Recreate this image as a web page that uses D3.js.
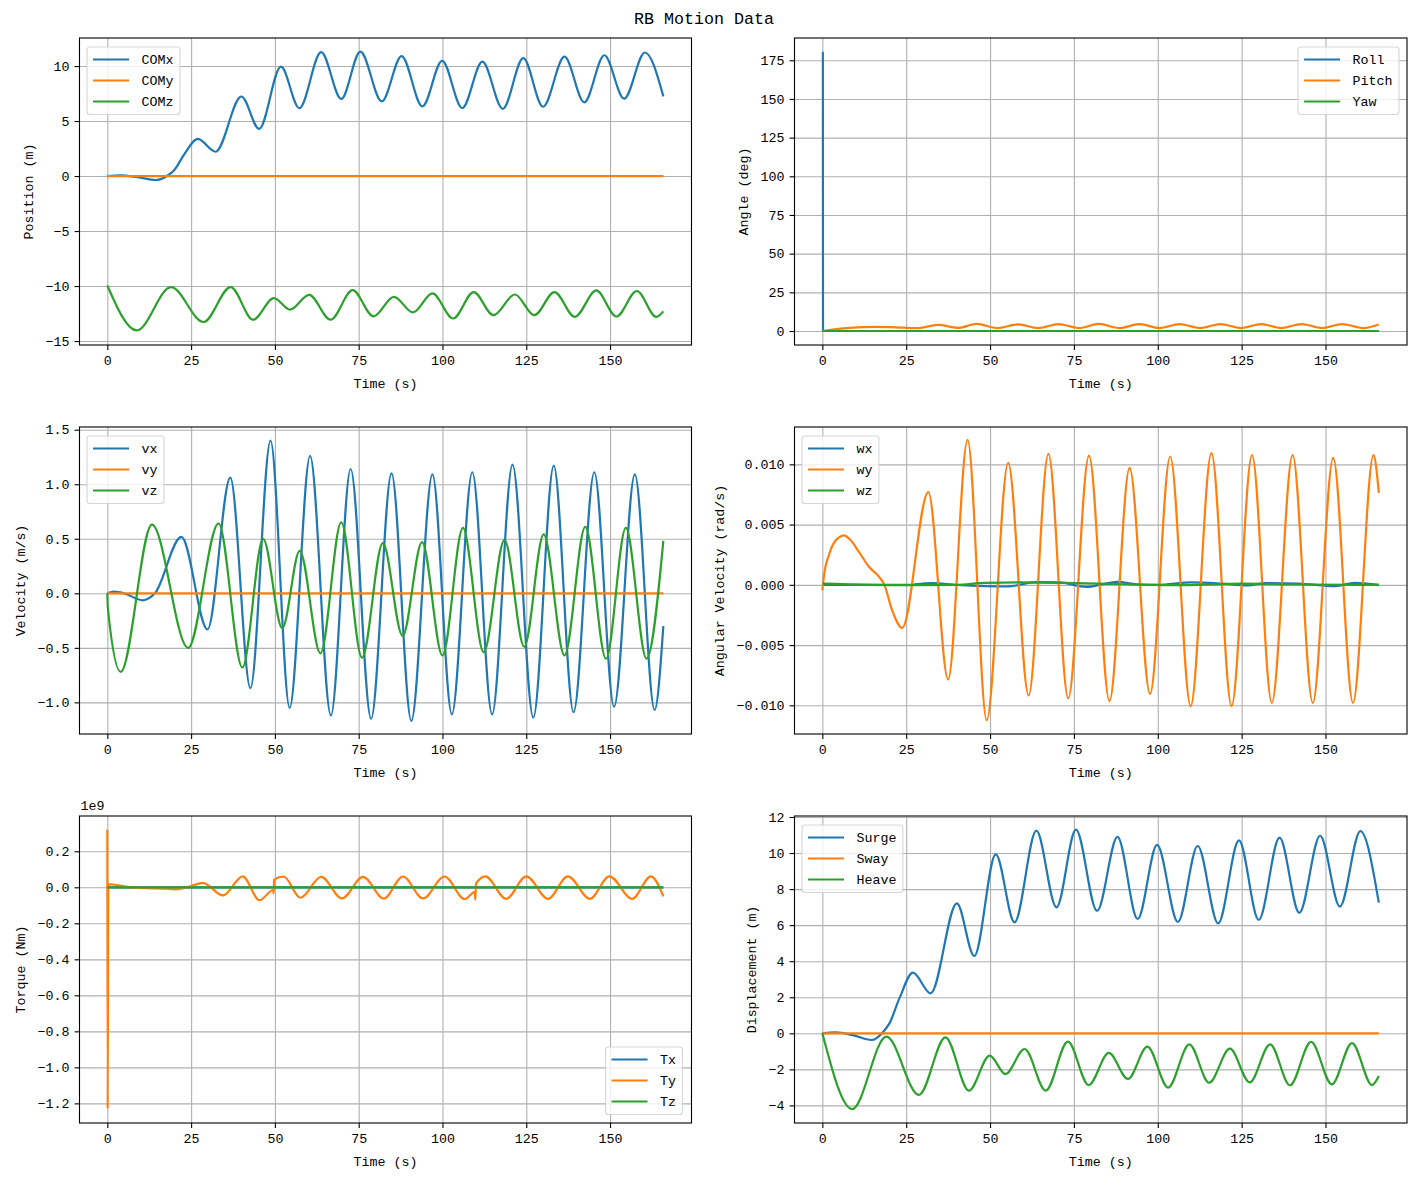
<!DOCTYPE html>
<html>
<head>
<meta charset="utf-8">
<title>RB Motion Data</title>
<script src="https://cdn.jsdelivr.net/npm/d3@7"></script>
<style>
  body { margin: 0; background: #fff; }
  text { font-family: "Liberation Mono", "DejaVu Sans Mono", monospace; fill: #000; }
</style>
</head>
<body>
<script>
// rb_motion : six panels of rigid body motion read back from the plot
// every series is a list of [time (s), value] samples

var comX = [[0,0],[4,0.06],[9,-0.1],[14.5,-0.36],[18,0.05],[20,0.55],[23,2.0],[27,3.38],[32.3,2.21],
  [40,7.23],[45.3,4.28],[51.8,9.94],[57.3,6.17],[63.8,11.26],[69.8,7.01],[75.5,11.32],[81.9,6.79],[87.8,10.9],
  [94,6.33],[99.9,10.47],[105.9,6.18],[111.9,10.4],[118,6.11],[124.1,10.72],[130,6.3],[136.4,10.85],[142.3,6.7],
  [148.3,10.98],[154.2,7.03],[160.4,11.23],[165.9,7.24]];
var comY = [[0,0],[165.9,0]];
var comZ = [[0,-9.95],[8.8,-14.03],[19,-10.09],[28.7,-13.27],[36.8,-10.09],[43.5,-13.06],[49.7,-11.09],[54.5,-12.15],
  [60.2,-10.8],[66.6,-13.06],[73.2,-10.38],[79.4,-12.75],[85.5,-10.98],[91.2,-12.4],[97,-10.67],[103.2,-12.95],
  [109.3,-10.55],[115.2,-12.65],[121.6,-10.77],[127.4,-12.65],[133.4,-10.55],[139.5,-12.8],[145.9,-10.4],
  [151.9,-12.77],[158,-10.45],[163.8,-12.8],[165.9,-12.3]];

var roll = [[0,180],[0.15,180],[0.2,0],[165.9,0]];
var pitch = [[0,0],[8,2.0],[16,2.7],[22,2.4],[28,1.8],[34.5,3.9],[40.5,2.0],[46,4.6],[52.2,1.9],[58.3,4.3],
  [64.4,1.9],[70.4,4.5],[76.5,1.9],[82.4,4.6],[88.6,1.9],[94.5,4.4],[100.5,1.9],[106.5,4.5],[112.6,1.9],
  [118.7,4.5],[124.8,1.9],[130.8,4.5],[136.8,1.9],[142.8,4.5],[149,1.9],[155,4.5],[161.2,1.9],[165.9,4.2]];
var yaw = [[0,0],[165.9,0]];

var vx = [[0,0],[2,0.015],[5,0],[10.6,-0.064],[14.2,0],[22.1,0.517],[29.9,-0.33],[36.7,1.06],[42.7,-0.87],
  [48.7,1.4],[54.4,-1.05],[60.5,1.26],[66.7,-1.12],[72.6,1.14],[78.7,-1.15],[84.8,1.1],[90.7,-1.17],[97,1.09],
  [102.8,-1.11],[108.9,1.11],[114.8,-1.11],[120.9,1.18],[127.1,-1.14],[133.2,1.17],[139.1,-1.09],[145.3,1.11],
  [151.2,-1.04],[157.4,1.09],[163.3,-1.07],[165.9,-0.3]];
var vy = [[0,0],[165.9,0]];
var vz = [[0,0],[0.15,-0.13],[4,-0.72],[13.3,0.63],[24.1,-0.5],[33.2,0.64],[40.3,-0.68],[46.5,0.5],[52.2,-0.32],
  [57.4,0.39],[63.6,-0.55],[69.8,0.65],[76,-0.59],[82.2,0.46],[88.1,-0.39],[93.9,0.47],[100,-0.57],[106.1,0.6],
  [112.3,-0.54],[118.5,0.49],[124.4,-0.49],[130.2,0.54],[136.4,-0.57],[142.6,0.61],[148.8,-0.6],[154.7,0.6],
  [160.9,-0.6],[165.9,0.48]];

var wx = [[0,0],[25,0],[32.4,0.00014],[40,0],[55,-0.00014],[63.7,0.00022],[70.6,0.0002],[78.7,-0.00017],
  [88,0.00025],[93.7,0.00005],[100,0],[110,0.0002],[119,0.0001],[127,-0.00005],[132,0.00014],[142,0.0001],
  [153,-0.0001],[158.6,0.00017],[165.9,0]];
var wy = [[0,-0.00045],[0.6,0.001],[2,0.0025],[3.5,0.0035],[6.5,0.0041],[8.1,0.0038],[11,0.0027],[13.9,0.0015],
  [16.8,0.0007],[18.5,0],[20.8,-0.0021],[23.8,-0.00357],[31.6,0.0077],[37.5,-0.00786],[43.3,0.01203],
  [49,-0.01123],[55.4,0.01012],[61.5,-0.00918],[67.4,0.01087],[73.3,-0.00943],[79.5,0.01073],[85.6,-0.00965],
  [91.6,0.0097],[97.7,-0.00905],[103.7,0.01065],[109.8,-0.01007],[116,0.01095],[122,-0.01007],[128.1,0.01076],
  [134,-0.0098],[140.2,0.01076],[146.2,-0.0098],[152.3,0.01054],[158.2,-0.0098],[164.3,0.01076],[165.9,0.00763]];
var wz = [[0,0.0001],[25,-0.00003],[40,0],[48.6,0.00017],[59,0.0002],[75,0.00014],[90,0.00005],[107.6,-0.00003],
  [125,0.0001],[142,0.00003],[165.9,0]];

// torque in units of 1e9 Nm
var tx = [[0,0],[165.9,0]];
var ty = [[0,0.32],[0.1,-1.23],[0.3,0.018],[3,0.012],[7,0],[12,-0.005],[17,-0.008],[20.5,-0.011],[25,0.007],
  [28.5,0.025],[34.5,-0.045],[40.4,0.061],[45.4,-0.072],[49.5,-0.015],[49.6,-0.035],[49.75,0.043],[52.6,0.06],
  [57.6,-0.058],[63.8,0.058],[70,-0.062],[76.3,0.058],[82.5,-0.063],[88.2,0.06],[94.2,-0.062],[100.6,0.06],
  [106.6,-0.065],[109.7,-0.025],[109.8,-0.068],[110,0.02],[112.8,0.061],[119,-0.064],[125,0.061],[131.5,-0.064],
  [137.4,0.061],[144,-0.064],[149.8,0.061],[156.6,-0.064],[162.2,0.061],[165.9,-0.05]];
var tz = [[0,0],[165.9,0]];

var surge = [[0,0],[4,0.05],[9,-0.1],[14.7,-0.37],[18,0.05],[20,0.55],[23,1.95],[27,3.37],[32.3,2.22],
  [40.1,7.21],[45.3,4.29],[51.7,9.93],[57.3,6.16],[63.8,11.24],[69.8,6.99],[75.6,11.3],[81.9,6.79],[88,10.9],
  [94,6.34],[99.8,10.45],[106,6.18],[111.9,10.39],[118,6.1],[124.2,10.7],[130.1,6.29],[136.3,10.85],[142.2,6.68],
  [148.4,10.96],[154.3,7.03],[160.4,11.22],[165.9,7.25]];
var sway = [[0,0],[165.9,0]];
var heave = [[0,0],[8.9,-4.2],[19.1,-0.18],[28.8,-3.42],[36.7,-0.22],[43.7,-3.18],[49.9,-1.24],[54.6,-2.26],
  [60.3,-0.87],[66.6,-3.18],[73.2,-0.46],[79.4,-2.87],[85.4,-1.09],[91.1,-2.53],[96.9,-0.74],[103.1,-3.01],
  [109.4,-0.61],[115.3,-2.74],[121.5,-0.85],[127.4,-2.72],[133.5,-0.61],[139.4,-2.88],[145.7,-0.48],
  [151.9,-2.83],[157.9,-0.54],[163.9,-2.87],[165.9,-2.37]];

// tick labels
var timeTicks = [0, 25, 50, 75, 100, 125, 150];
var positionTicks = [-15, -10, -5, 0, 5, 10];
var angleTicks = [0, 25, 50, 75, 100, 125, 150, 175];
var velocityTicks = [-1.0, -0.5, 0.0, 0.5, 1.0, 1.5];
var angVelTicks = [-0.010, -0.005, 0, 0.005, 0.010];
var torqueTicks = [-1.2, -1.0, -0.8, -0.6, -0.4, -0.2, 0, 0.2];
var dispTicks = [-4, -2, 0, 2, 4, 6, 8, 10, 12];

// figure layout
var width = 1419, height = 1180;
var fontSize = 13.3;
var colors = ["#1f77b4", "#ff7f0e", "#2ca02c"];
var colLeft = [79.5, 794.5], colRight = [691.5, 1407];
var rowTop = [38, 427, 816], rowBottom = [345, 734, 1123];
var timeDomain = [-8.3, 174.3];

var panels = [
  {row: 0, col: 0, ylabel: "Position (m)", domain: [-15.36, 12.55], ticks: positionTicks, fmt: "d",
   names: ["COMx", "COMy", "COMz"], series: [comX, comY, comZ], legend: "ul"},
  {row: 0, col: 1, ylabel: "Angle (deg)", domain: [-9.05, 189.4], ticks: angleTicks, fmt: "d",
   names: ["Roll", "Pitch", "Yaw"], series: [roll, pitch, yaw], legend: "ur"},
  {row: 1, col: 0, ylabel: "Velocity (m/s)", domain: [-1.29, 1.525], ticks: velocityTicks, fmt: ".1f",
   names: ["vx", "vy", "vz"], series: [vx, vy, vz], legend: "ul"},
  {row: 1, col: 1, ylabel: "Angular Velocity (rad/s)", domain: [-0.01238, 0.0131], ticks: angVelTicks, fmt: ".3f",
   names: ["wx", "wy", "wz"], series: [wx, wy, wz], legend: "ul"},
  {row: 2, col: 0, ylabel: "Torque (Nm)", domain: [-1.309, 0.396], ticks: torqueTicks, fmt: ".1f",
   names: ["Tx", "Ty", "Tz"], series: [tx, ty, tz], legend: "lr", offset: "1e9"},
  {row: 2, col: 1, ylabel: "Displacement (m)", domain: [-4.975, 12.055], ticks: dispTicks, fmt: "d",
   names: ["Surge", "Sway", "Heave"], series: [surge, sway, heave], legend: "ul"}
];

var svg = d3.select("body").append("svg")
    .attr("width", width)
    .attr("height", height)
    .style("background", "#fff");

svg.append("text")
    .attr("x", 704)
    .attr("y", 24)
    .attr("text-anchor", "middle")
    .style("font-size", "16.7px")
    .text("RB Motion Data");

panels.forEach(function(p, i) {
  var left = colLeft[p.col], right = colRight[p.col];
  var top = rowTop[p.row], bottom = rowBottom[p.row];
  var x = d3.scaleLinear().domain(timeDomain).range([left, right]);
  var y = d3.scaleLinear().domain(p.domain).range([bottom, top]);
  var g = svg.append("g");

  svg.append("clipPath").attr("id", "clip" + i)
    .append("rect")
      .attr("x", left).attr("y", top)
      .attr("width", right - left).attr("height", bottom - top);

  // grid
  g.append("g")
      .attr("transform", "translate(0," + bottom + ")")
      .call(d3.axisBottom(x).tickValues(timeTicks).tickSize(-(bottom - top)).tickFormat(""))
      .call(function(s) { s.select(".domain").remove(); })
    .selectAll("line")
      .attr("stroke", "#b0b0b0").attr("stroke-width", 1.1);
  g.append("g")
      .attr("transform", "translate(" + left + ",0)")
      .call(d3.axisLeft(y).tickValues(p.ticks).tickSize(-(right - left)).tickFormat(""))
      .call(function(s) { s.select(".domain").remove(); })
    .selectAll("line")
      .attr("stroke", "#b0b0b0").attr("stroke-width", 1.1);

  // curves
  var line = d3.line()
      .x(function(d) { return x(d[0]); })
      .y(function(d) { return y(d[1]); })
      .curve(d3.curveMonotoneX);
  g.append("g").attr("clip-path", "url(#clip" + i + ")")
    .selectAll("path").data(p.series).enter().append("path")
      .attr("d", line)
      .attr("fill", "none")
      .attr("stroke", function(d, j) { return colors[j]; })
      .attr("stroke-width", 2.2)
      .attr("stroke-linejoin", "round");

  // frame
  g.append("rect")
      .attr("x", left).attr("y", top)
      .attr("width", right - left).attr("height", bottom - top)
      .attr("fill", "none").attr("stroke", "#000").attr("stroke-width", 1.1);

  // axes
  var xa = g.append("g")
      .attr("transform", "translate(0," + bottom + ")")
      .call(d3.axisBottom(x).tickValues(timeTicks).tickSizeInner(4.9).tickSizeOuter(0).tickPadding(6)
        .tickFormat(d3.format("d")));
  var ya = g.append("g")
      .attr("transform", "translate(" + left + ",0)")
      .call(d3.axisLeft(y).tickValues(p.ticks).tickSizeInner(4.9).tickSizeOuter(0).tickPadding(5.2)
        .tickFormat(d3.format(p.fmt)));
  [xa, ya].forEach(function(a) {
    a.select(".domain").remove();
    a.attr("font-family", null).attr("font-size", null);
    a.selectAll("line").attr("stroke", "#000").attr("stroke-width", 1.1);
    a.selectAll("text").style("font-size", fontSize + "px");
  });

  var maxw = 0;
  ya.selectAll("text").each(function() { maxw = Math.max(maxw, this.getComputedTextLength()); });

  g.append("text")
      .attr("x", (left + right) / 2)
      .attr("y", bottom + 42.5)
      .attr("text-anchor", "middle")
      .style("font-size", fontSize + "px")
      .text("Time (s)");
  var lx = left - maxw - 27 + 4.5, ly = (top + bottom) / 2;
  g.append("text")
      .attr("transform", "translate(" + lx + "," + ly + ") rotate(-90)")
      .attr("text-anchor", "middle")
      .style("font-size", fontSize + "px")
      .text(p.ylabel);

  if (p.offset) {
    g.append("text")
        .attr("x", left + 1)
        .attr("y", top - 6.5)
        .style("font-size", fontSize + "px")
        .text(p.offset);
  }

  // legend
  var lg = g.append("g");
  var labels = lg.selectAll("text.lbl").data(p.names).enter().append("text")
      .attr("class", "lbl")
      .style("font-size", fontSize + "px")
      .text(function(d) { return d; });
  var textw = 0;
  labels.each(function() { textw = Math.max(textw, this.getComputedTextLength()); });
  var bw = 54.5 + textw + 6.5, bh = 67.5;
  var bx, by;
  if (p.legend === "ul") { bx = left + 7.5; by = top + 9; }
  else if (p.legend === "ur") { bx = right - 8 - bw; by = top + 9; }
  else { bx = right - 9 - bw; by = bottom - 8.5 - bh; }
  lg.insert("rect", "text")
      .attr("x", bx).attr("y", by)
      .attr("width", bw).attr("height", bh)
      .attr("rx", 3)
      .attr("fill", "#fff").attr("fill-opacity", 0.8)
      .attr("stroke", "#cccccc").attr("stroke-opacity", 0.8).attr("stroke-width", 1.1);
  lg.selectAll("line.key").data(p.names).enter().append("line")
      .attr("class", "key")
      .attr("x1", bx + 6).attr("x2", bx + 42)
      .attr("y1", function(d, j) { return by + 12.5 + j * 21; })
      .attr("y2", function(d, j) { return by + 12.5 + j * 21; })
      .attr("stroke", function(d, j) { return colors[j]; })
      .attr("stroke-width", 2.2);
  labels
      .attr("x", bx + 54.5)
      .attr("y", function(d, j) { return by + 12.5 + j * 21; })
      .attr("dy", "0.35em");
});
</script>
</body>
</html>
